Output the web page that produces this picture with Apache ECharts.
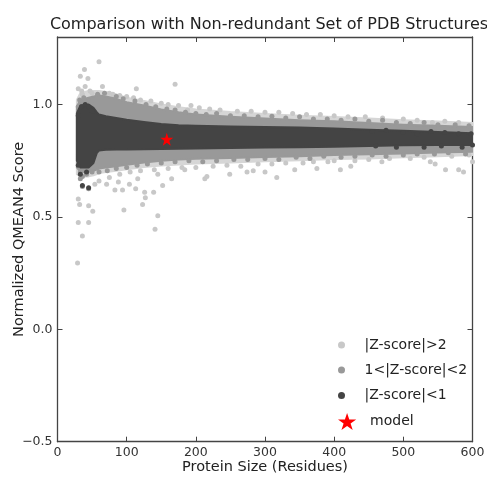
<!DOCTYPE html>
<html>
<head>
<meta charset="utf-8">
<script src="https://cdn.jsdelivr.net/npm/echarts@6/dist/echarts.min.js"></script>
<style>
html,body{margin:0;padding:0;background:#fff;}
#chart{width:487px;height:477px;}
</style>
</head>
<body>
<div id="chart"></div>
<script>
// ---------- data ----------
var xTicks = [0, 100, 200, 300, 400, 500, 600];
var yTicks = [-0.5, 0.0, 0.5, 1.0];

// band outlines (protein size -> score)
var bandSizes   = [28, 33, 45, 52, 57, 60, 70, 85, 100, 125, 150, 175, 200, 250, 300, 350, 400, 450, 500, 550, 600];
var darkUpper   = [0.96, 0.995, 1.0, 0.985, 0.965, 0.955, 0.948, 0.94, 0.932, 0.922, 0.913, 0.908, 0.905, 0.902, 0.9, 0.897, 0.893, 0.888, 0.883, 0.878, 0.872];
var darkLower   = [0.75, 0.72, 0.72, 0.74, 0.785, 0.795, 0.798, 0.8, 0.8, 0.801, 0.802, 0.803, 0.804, 0.806, 0.808, 0.81, 0.812, 0.815, 0.818, 0.82, 0.82];
var midUpper    = [0.99, 1.02, 1.03, 1.035, 1.04, 1.04, 1.035, 1.025, 1.01, 0.995, 0.978, 0.965, 0.955, 0.945, 0.938, 0.93, 0.925, 0.918, 0.91, 0.905, 0.9];
var midLower    = [0.72, 0.70, 0.70, 0.705, 0.71, 0.715, 0.72, 0.725, 0.732, 0.742, 0.75, 0.755, 0.758, 0.762, 0.766, 0.77, 0.775, 0.778, 0.782, 0.786, 0.79];
var lightUpper  = [1.02, 1.05, 1.06, 1.06, 1.06, 1.06, 1.055, 1.045, 1.03, 1.015, 1.0, 0.988, 0.978, 0.966, 0.958, 0.95, 0.944, 0.938, 0.93, 0.924, 0.918];
var lightLower  = [0.69, 0.68, 0.68, 0.685, 0.69, 0.695, 0.7, 0.705, 0.712, 0.722, 0.728, 0.733, 0.737, 0.742, 0.747, 0.752, 0.757, 0.76, 0.765, 0.77, 0.775];

// individual points
var lightPoints = [
  [60,1.19],[39,1.155],[33,1.125],[44,1.115],[65,1.08],[114,1.07],[170,1.09],[30,1.07],[35,1.06],[40,1.08],[47,1.06],[50,1.05],[36,1.045],[80,1.045],[193,0.995],[188,0.975],[542,0.92],
  [30,0.58],[32,0.555],[45,0.55],[51,0.525],[96,0.53],[30,0.475],[45,0.475],[36,0.415],[145,0.505],[141,0.445],[29,0.295],[123,0.555],[127,0.585],[126,0.61],[139,0.61],[152,0.64],[113,0.625],[83,0.62],[94,0.62],[71,0.645],[54,0.645],[165,0.67],[116,0.67],[145,0.69],[88,0.655],[104,0.645],
  [184,0.71],[213,0.67],[216,0.68],[249,0.69],[274,0.70],[300,0.70],[343,0.71],[375,0.715],[317,0.675],[283,0.705],[391,0.745],[409,0.71],[424,0.725],[469,0.745],[539,0.745],[546,0.735],[561,0.71],[580,0.71],[587,0.70],[600,0.745],
  [75,1.05],[90,1.04],[100,1.035],[110,1.03],[120,1.02],[135,1.015],[150,1.005],[160,1.0],[175,0.995],[205,0.985],[220,0.98],[235,0.975],[260,0.97],[280,0.97],[300,0.965],[320,0.965],[340,0.96],[360,0.955],[380,0.955],[400,0.95],[420,0.945],[445,0.945],[470,0.94],[500,0.935],[520,0.93],[560,0.925],[580,0.92],
  [60,0.66],[75,0.675],[90,0.69],[105,0.7],[120,0.705],[140,0.71],[160,0.715],[180,0.72],[200,0.72],[225,0.725],[245,0.73],[265,0.725],[290,0.735],[310,0.735],[330,0.74],[355,0.74],[370,0.745],[400,0.75],[430,0.75],[450,0.755],[480,0.76],[510,0.76],[530,0.765],[570,0.77],[595,0.775]
];
var midPoints = [
  [32,1.02],[38,1.03],[42,1.0],[30,0.99],[48,1.01],[33,0.70],[36,0.68],[42,0.69],[45,0.71],[50,0.7],[36,0.635],[45,0.625],[33,0.67],
  [58,1.045],[68,1.05],[85,1.035],[95,1.025],[112,1.015],[128,1.0],[142,0.99],[158,0.98],[170,0.975],[185,0.965],[200,0.96],[215,0.955],[230,0.96],[250,0.95],[270,0.95],[290,0.945],[310,0.948],[330,0.94],[350,0.945],[370,0.935],[390,0.935],[410,0.93],[430,0.935],[450,0.925],[470,0.93],[490,0.92],[510,0.915],[530,0.92],[550,0.91],[575,0.91],[595,0.905],
  [60,0.70],[72,0.705],[85,0.715],[100,0.72],[115,0.73],[130,0.735],[150,0.74],[170,0.745],[190,0.75],[210,0.745],[230,0.75],[255,0.755],[275,0.755],[300,0.76],[320,0.755],[345,0.765],[365,0.76],[385,0.77],[410,0.765],[430,0.77],[455,0.775],[475,0.77],[500,0.775],[520,0.78],[545,0.78],[565,0.785],[590,0.78]
];
var darkPoints = [
  [30,0.73],[33,0.69],[36,0.64],[45,0.63],[42,0.7],[30,0.95],[35,0.99],[40,1.0],[45,0.99],[50,0.97],
  [455,0.88],[475,0.885],[500,0.875],[520,0.87],[540,0.88],[560,0.875],[580,0.87],[598,0.87],[460,0.815],[490,0.81],[530,0.81],[555,0.815],[585,0.81],[600,0.82]
];
var modelPoint = [[158, 0.845]];

var seriesNames = ['|Z-score|>2', '1<|Z-score|<2', '|Z-score|<1', 'model'];
var colLight = '#c8c8c8', colMid = '#999999', colDark = '#444444', colModel = '#ff0000';
var starPath = 'path://M50,0 L61.8,35.1 L98.9,35.1 L68.8,56.7 L80.3,91.5 L50,70 L19.7,91.5 L31.2,56.7 L1.1,35.1 L38.2,35.1 Z';

function bandSeries(name, upper, lower, color, z) {
  return {
    type: 'custom', name: name, z: z, silent: true,
    coordinateSystem: 'cartesian2d',
    data: [[bandSizes[0], upper[0]]],
    clip: true,
    renderItem: function (params, api) {
      var pts = [];
      for (var i = 0; i < bandSizes.length; i++) pts.push(api.coord([bandSizes[i], upper[i]]));
      for (var j = bandSizes.length - 1; j >= 0; j--) pts.push(api.coord([bandSizes[j], lower[j]]));
      return { type: 'polygon', shape: { points: pts }, style: { fill: color, stroke: color, lineWidth: 2, lineJoin: 'round' } };
    }
  };
}

var font = 'DejaVu Sans';
var chart = echarts.init(document.getElementById('chart'), null, { renderer: 'canvas' });

function legendFor(name, top, h, icon) {
  return {
    data: [{ name: name, icon: icon }],
    left: 338, top: top, orient: 'vertical',
    itemWidth: 36, itemHeight: h, padding: 0,
    symbolKeepAspect: true,
    textStyle: { fontFamily: font, fontSize: 14, color: '#222' },
    selectedMode: false
  };
}

var axisLineStyle = { show: true, onZero: false, lineStyle: { color: '#444', width: 1.3 } };

chart.setOption({
  animation: false,
  backgroundColor: '#fff',
  title: {
    text: 'Comparison with Non-redundant Set of PDB Structures',
    left: 264, textAlign: 'center', top: 12,
    textStyle: { fontFamily: font, fontSize: 16, fontWeight: 'normal', color: '#222' }
  },
  legend: [
    legendFor(seriesNames[0], 338, 7, 'circle'),
    legendFor(seriesNames[1], 363, 7, 'circle'),
    legendFor(seriesNames[2], 388.5, 7, 'circle'),
    legendFor(seriesNames[3], 413, 17, starPath)
  ],
  grid: { left: 57.5, right: 14.5, top: 37, bottom: 35.3, containLabel: false, outerBoundsMode: 'none' },
  xAxis: [{
    type: 'value', min: xTicks[0], max: xTicks[xTicks.length - 1], interval: 100,
    name: 'Protein Size (Residues)', nameLocation: 'middle', nameGap: 18, nameMoveOverlap: false,
    nameTextStyle: { fontFamily: font, fontSize: 14.5, color: '#222' },
    axisLine: axisLineStyle,
    axisTick: { inside: true, length: 5, lineStyle: { color: '#444' } },
    axisLabel: { fontFamily: font, fontSize: 12.5, color: '#333', margin: 5 },
    splitLine: { show: false }
  }, {
    type: 'value', position: 'top', min: xTicks[0], max: xTicks[xTicks.length - 1], interval: 100,
    axisLine: axisLineStyle,
    axisTick: { inside: true, length: 5, lineStyle: { color: '#444' } },
    axisLabel: { show: false }, splitLine: { show: false }
  }],
  yAxis: [{
    type: 'value', min: yTicks[0], max: 1.3, interval: 0.5,
    name: 'Normalized QMEAN4 Score', nameLocation: 'middle', nameGap: 31, nameRotate: 90, nameMoveOverlap: false,
    nameTextStyle: { fontFamily: font, fontSize: 14.5, color: '#222' },
    axisLine: axisLineStyle,
    axisTick: { inside: true, length: 5, lineStyle: { color: '#444' } },
    axisLabel: {
      fontFamily: font, fontSize: 12.5, color: '#333', margin: 5, showMaxLabel: false,
      formatter: function (v) { return (v < 0 ? '\u2212' : '') + Math.abs(v).toFixed(1); }
    },
    splitLine: { show: false }
  }, {
    type: 'value', position: 'right', min: yTicks[0], max: 1.3, interval: 0.5,
    axisLine: axisLineStyle,
    axisTick: { inside: true, length: 5, lineStyle: { color: '#444' } },
    axisLabel: { show: false }, splitLine: { show: false }
  }],
  series: [
    bandSeries('band-light', lightUpper, lightLower, '#d6d6d6', 1),
    { type: 'scatter', name: seriesNames[0], data: lightPoints, symbol: 'circle', symbolSize: 5, z: 2,
      itemStyle: { color: colLight, opacity: 1 } },
    bandSeries('band-mid', midUpper, midLower, colMid, 3),
    { type: 'scatter', name: seriesNames[1], data: midPoints, symbol: 'circle', symbolSize: 5, z: 4,
      itemStyle: { color: colMid, opacity: 1 } },
    bandSeries('band-dark', darkUpper, darkLower, colDark, 5),
    { type: 'scatter', name: seriesNames[2], data: darkPoints, symbol: 'circle', symbolSize: 5, z: 6,
      itemStyle: { color: colDark, opacity: 1 } },
    { type: 'scatter', name: seriesNames[3], data: modelPoint, symbol: starPath, symbolSize: 13, z: 7,
      itemStyle: { color: colModel, opacity: 1 } }
  ]
});
</script>
</body>
</html>
